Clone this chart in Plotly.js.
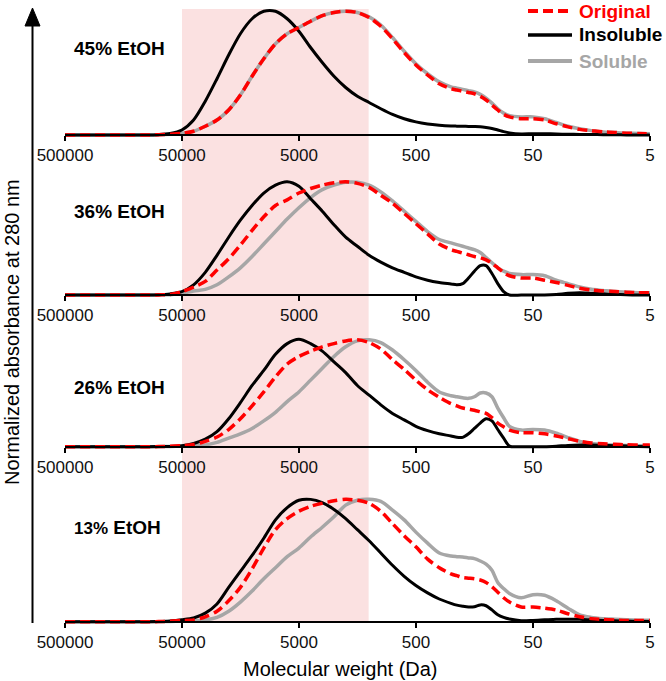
<!DOCTYPE html>
<html>
<head>
<meta charset="utf-8">
<script src="https://cdn.plot.ly/plotly-3.0.1.min.js"></script>
<style>html,body{margin:0;padding:0;background:#fff;}#chart{width:666px;height:681px;}</style>
</head>
<body>
<div id="chart"></div>
<script>
// ---------- DATA ----------
// log10 of molecular weight (Da) at which the curves were read
const logMW = [5.699, 5.0, 4.9, 4.8, 4.7, 4.6, 4.5, 4.4, 4.3, 4.2, 4.1, 4.0, 3.9, 3.8, 3.7, 3.6, 3.5, 3.4, 3.3, 3.2, 3.1, 3.0, 2.9, 2.8, 2.7, 2.6, 2.5, 2.4, 2.35, 2.3, 2.25, 2.2, 2.15, 2.1, 2.05, 2.0, 1.95, 1.9, 1.8, 1.7, 1.6, 1.5, 1.4, 1.3, 1.2, 1.1, 1.0, 0.9, 0.8, 0.7];

const panelLabels = ['45% EtOH', '36% EtOH', '26% EtOH', '13% EtOH'];
const seriesNames = ['Original', 'Insoluble', 'Soluble'];
const tickVals = [500000, 50000, 5000, 500, 50, 5];
const tickText = ['500000', '50000', '5000', '500', '50', '5'];
const bandMW = [50000, 1270];

// 45% EtOH
const orig45 = [0,0,0.002,0.006,0.013,0.03,0.07,0.12,0.2,0.32,0.47,0.61,0.73,0.81,0.86,0.91,0.955,0.98,0.99,0.98,0.94,0.87,0.77,0.66,0.56,0.48,0.41,0.37,0.36,0.35,0.34,0.33,0.31,0.28,0.24,0.2,0.165,0.145,0.13,0.13,0.12,0.09,0.065,0.045,0.035,0.025,0.02,0.015,0.012,0.01];
const insol45 = [0,0,0.003,0.012,0.04,0.12,0.27,0.45,0.64,0.81,0.93,0.99,0.99,0.93,0.83,0.70,0.58,0.47,0.38,0.31,0.26,0.21,0.165,0.13,0.105,0.088,0.078,0.072,0.071,0.07,0.069,0.068,0.066,0.06,0.052,0.04,0.027,0.017,0.008,0.01,0.01,0.008,0.006,0.005,0.004,0.003,0.002,0.001,0,0];
const sol45 = [0,0,0.002,0.006,0.013,0.03,0.07,0.12,0.2,0.32,0.47,0.61,0.73,0.81,0.86,0.91,0.955,0.98,0.99,0.98,0.945,0.88,0.78,0.67,0.57,0.49,0.425,0.385,0.375,0.365,0.355,0.345,0.325,0.295,0.255,0.21,0.175,0.155,0.145,0.145,0.13,0.1,0.07,0.05,0.035,0.025,0.02,0.015,0.012,0.01];

// 36% EtOH
const orig36 = [0,0,0.001,0.005,0.03,0.07,0.12,0.22,0.32,0.44,0.57,0.69,0.79,0.84,0.9,0.94,0.97,0.99,1.0,0.985,0.95,0.88,0.81,0.72,0.63,0.54,0.45,0.4,0.385,0.37,0.355,0.34,0.33,0.31,0.28,0.24,0.2,0.17,0.15,0.15,0.13,0.11,0.085,0.06,0.045,0.035,0.03,0.025,0.02,0.02];
const insol36 = [0,0,0.002,0.01,0.03,0.09,0.2,0.35,0.51,0.66,0.79,0.9,0.97,1.0,0.96,0.85,0.74,0.62,0.51,0.43,0.35,0.29,0.24,0.2,0.16,0.13,0.11,0.097,0.09,0.1,0.15,0.21,0.26,0.26,0.19,0.1,0.03,0,0,0,0,0.005,0.015,0.02,0.015,0.01,0.005,0.002,0,0];
const sol36 = [0,0,0.001,0.003,0.015,0.035,0.05,0.09,0.16,0.24,0.34,0.45,0.56,0.67,0.77,0.86,0.93,0.97,0.995,0.995,0.97,0.91,0.83,0.74,0.65,0.56,0.49,0.46,0.445,0.43,0.415,0.4,0.375,0.33,0.285,0.24,0.21,0.19,0.18,0.18,0.17,0.13,0.1,0.07,0.05,0.04,0.03,0.025,0.02,0.02];

// 26% EtOH
const orig26 = [0,0,0.001,0.004,0.01,0.02,0.05,0.09,0.16,0.26,0.38,0.51,0.65,0.77,0.84,0.89,0.93,0.96,0.985,0.995,0.97,0.91,0.81,0.72,0.62,0.53,0.46,0.4,0.38,0.36,0.35,0.34,0.325,0.31,0.27,0.22,0.185,0.155,0.13,0.13,0.12,0.1,0.075,0.05,0.035,0.028,0.022,0.018,0.015,0.015];
const insol26 = [0,0,0.001,0.003,0.01,0.03,0.07,0.14,0.26,0.41,0.57,0.71,0.86,0.96,1.0,0.96,0.89,0.79,0.69,0.57,0.48,0.39,0.31,0.25,0.19,0.15,0.12,0.1,0.087,0.087,0.12,0.17,0.22,0.26,0.24,0.16,0.08,0.006,0,0,0,0.005,0.012,0.015,0.015,0.012,0.01,0.006,0.003,0];
const sol26 = [0,0,0,0.002,0.005,0.01,0.016,0.04,0.08,0.12,0.17,0.24,0.32,0.42,0.51,0.62,0.73,0.84,0.93,0.985,0.995,0.97,0.9,0.81,0.71,0.6,0.51,0.475,0.465,0.455,0.45,0.465,0.5,0.5,0.465,0.36,0.27,0.19,0.155,0.16,0.155,0.125,0.085,0.05,0.03,0.02,0.015,0.012,0.01,0.01];

// 13% EtOH
const orig13 = [0,0,0.001,0.004,0.01,0.014,0.04,0.085,0.17,0.28,0.43,0.6,0.75,0.84,0.9,0.94,0.965,0.985,0.997,0.99,0.965,0.9,0.8,0.7,0.61,0.51,0.44,0.39,0.375,0.36,0.355,0.35,0.34,0.32,0.285,0.24,0.195,0.16,0.12,0.12,0.11,0.095,0.065,0.04,0.025,0.018,0.013,0.01,0.01,0.01];
const insol13 = [0,0,0.001,0.005,0.015,0.03,0.07,0.145,0.28,0.41,0.54,0.68,0.83,0.93,0.99,0.997,0.97,0.915,0.84,0.75,0.66,0.56,0.46,0.37,0.295,0.235,0.185,0.15,0.135,0.126,0.12,0.122,0.137,0.13,0.096,0.057,0.035,0.022,0.008,0.01,0.015,0.02,0.02,0.02,0.015,0.01,0.008,0.005,0.003,0.002];
const sol13 = [0,0,0,0.002,0.005,0.008,0.014,0.035,0.085,0.16,0.25,0.35,0.44,0.53,0.6,0.69,0.77,0.855,0.95,0.99,0.997,0.98,0.91,0.83,0.73,0.64,0.56,0.535,0.53,0.527,0.52,0.514,0.495,0.47,0.42,0.32,0.27,0.23,0.195,0.22,0.215,0.17,0.11,0.055,0.035,0.025,0.02,0.015,0.012,0.012];

const panelData = [
  [orig45, insol45, sol45],
  [orig36, insol36, sol36],
  [orig26, insol26, sol26],
  [orig13, insol13, sol13]
];

// ---------- LAYOUT / STYLE ----------
const W = 666, H = 681;
const X_LEFT = 65, X_RIGHT = 650;
const panelPx = [ {base:135, peak:10}, {base:295, peak:181.7}, {base:446.7, peak:339.3}, {base:621.7, peak:499} ];
const labelPx = [48.5, 212, 387, 527];
const legendRowPx = [11, 35, 61];
const Y_MIN = -0.04, Y_MAX = 1.06;
const py = p => 1 - p / H;
const pxx = p => p / W;

const styles = {
  Original: {color:'#ff0000', width:3.5, dash:'10px,5px'},
  Insoluble: {color:'#000000', width:3, dash:'solid'},
  Soluble: {color:'#a6a6a6', width:3.5, dash:'solid'}
};
const drawOrder = [2, 1, 0]; // soluble, insoluble, original on top

const mw = logMW.map(v => Math.pow(10, v));
const traces = [];
panelData.forEach((series, i) => {
  const sfx = i === 0 ? '' : String(i + 1);
  drawOrder.forEach(k => {
    const nm = seriesNames[k];
    traces.push({
      type: 'scatter', mode: 'lines',
      x: mw, y: series[k],
      xaxis: 'x' + sfx, yaxis: 'y' + sfx,
      name: nm, showlegend: false,
      line: {color: styles[nm].color, width: styles[nm].width, dash: styles[nm].dash, shape: 'spline', smoothing: 0.8},
      hoverinfo: 'skip'
    });
  });
});

const font = 'Liberation Sans, Arial, sans-serif';
const layout = {
  width: W, height: H,
  margin: {l:0, r:0, t:0, b:0},
  paper_bgcolor: '#ffffff', plot_bgcolor: 'rgba(0,0,0,0)',
  font: {family: font, color: '#000'},
  showlegend: false,
  shapes: [], annotations: []
};

panelPx.forEach((p, i) => {
  const sfx = i === 0 ? '' : String(i + 1);
  const h = p.base - p.peak;
  const botPx = p.base - Y_MIN * h, topPx = p.base - Y_MAX * h;
  layout['yaxis' + sfx] = {domain: [py(botPx), py(topPx)], range: [Y_MIN, Y_MAX], visible: false,
                           fixedrange: true, anchor: 'x' + sfx};
  layout['xaxis' + sfx] = {
    type: 'log', range: [Math.log10(tickVals[0]), Math.log10(tickVals[tickVals.length - 1])],
    domain: [pxx(X_LEFT), pxx(X_RIGHT)], anchor: 'free', position: py(p.base),
    showline: true, linecolor: '#000', linewidth: 2, showgrid: false, zeroline: false,
    ticks: 'outside', ticklen: 5, tickwidth: 1.5, tickcolor: '#000',
    tickmode: 'array', tickvals: tickVals, ticktext: tickText,
    tickfont: {family: font, size: 17, color: '#111'}, fixedrange: true
  };
  const lbl = panelLabels[i];
  const parts = lbl.split(' ');
  const txt = i === 3 ? '<b><span style="font-size:17px">' + parts[0] + '</span> ' + parts[1] + '</b>' : '<b>' + lbl + '</b>';
  layout.annotations.push({xref:'paper', yref:'paper', x: pxx(72), y: py(labelPx[i]), xanchor:'left', yanchor:'middle',
    text: txt, showarrow:false, font:{family: font, size: 19, color:'#000'}});
});

// shaded MW band
layout.shapes.push({type:'rect', xref:'x', yref:'paper', x0: bandMW[0], x1: bandMW[1], y0: py(622), y1: py(9),
  fillcolor:'#fbe1e1', line:{width:0}, layer:'below'});
// y-axis arrow
layout.shapes.push({type:'line', xref:'paper', yref:'paper', x0: pxx(32.5), x1: pxx(32.5), y0: py(623), y1: py(22),
  line:{color:'#000', width:2}});
layout.shapes.push({type:'path', xref:'paper', yref:'paper',
  path: 'M' + pxx(25) + ',' + py(26) + ' L' + pxx(32.5) + ',' + py(8) + ' L' + pxx(40) + ',' + py(26) + ' Z',
  fillcolor:'#000', line:{color:'#000', width:1}});

// legend (drawn manually to match placement)
seriesNames.forEach((nm, k) => {
  const yy = py(legendRowPx[k]);
  layout.shapes.push({type:'line', xref:'paper', yref:'paper', x0: pxx(528), x1: pxx(572), y0: yy, y1: yy,
    line:{color: styles[nm].color, width: styles[nm].width + 0.5, dash: styles[nm].dash}});
  layout.annotations.push({xref:'paper', yref:'paper', x: pxx(577), y: yy, xanchor:'left', yanchor:'middle',
    text: '<b>' + nm + '</b>', showarrow:false, font:{family: font, size: 19, color: styles[nm].color}});
});

layout.annotations.push({xref:'paper', yref:'paper', x: pxx(340), y: py(669), xanchor:'center', yanchor:'middle',
  text:'Molecular weight (Da)', showarrow:false, font:{family: font, size: 20, color:'#000'}});
layout.annotations.push({xref:'paper', yref:'paper', x: pxx(12), y: py(332), xanchor:'center', yanchor:'middle',
  text:'Normalized absorbance at 280 nm', textangle:-90, showarrow:false, font:{family: font, size: 20, color:'#000'}});

Plotly.newPlot('chart', traces, layout, {staticPlot: true, displayModeBar: false});
</script>
</body>
</html>
